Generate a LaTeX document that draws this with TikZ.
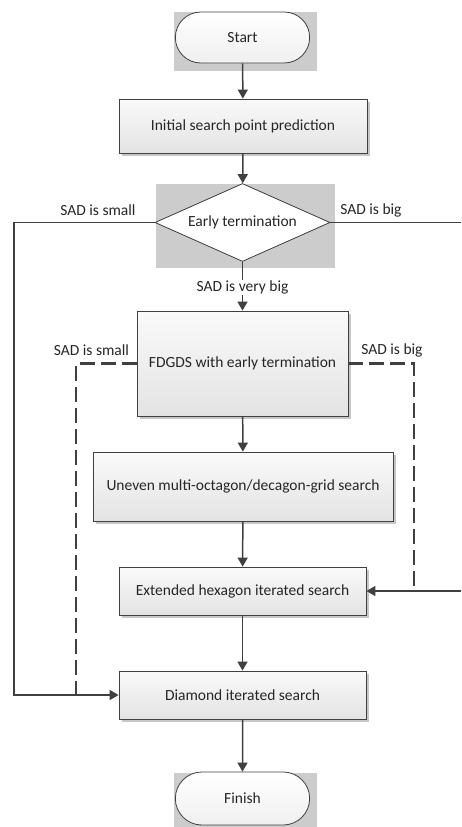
\documentclass[tikz,border=0pt]{standalone}
\usepackage{fontspec}
\setmainfont{Carlito}
\usepackage{tikz}
\usetikzlibrary{arrows.meta,shapes.geometric,shapes.misc,shadows}
\definecolor{linegray}{HTML}{404040}
\definecolor{bggray}{HTML}{CCCCCC}
\tikzset{
	x=1pt, y=-1pt,
	every node/.style={font=\fontsize{15.5}{18}\selectfont, text=black!85},
	procbox/.style={draw=linegray, line width=0.8pt, rectangle, top color=black!2, bottom color=black!11,
		general shadow={fill=black!22, shadow xshift=3pt, shadow yshift=-3pt}},
	termbox/.style={draw=linegray, line width=0.8pt, rounded rectangle, top color=white, bottom color=black!6},
	decbox/.style={draw=linegray, line width=0.8pt, diamond, inner sep=0pt, aspect=2.2, fill=white},
	lbl/.style={inner sep=1pt},
	arr/.style={draw=linegray, line width=1.5pt, -{Triangle[length=9pt,width=10pt]}},
	plain/.style={draw=linegray, line width=1.5pt},
	dashline/.style={draw=linegray, line width=2.6pt, dash pattern=on 15pt off 6pt},
}

\begin{document}
\begin{tikzpicture}
			%%%%% START %%%%%
			\useasboundingbox[fill=white] (0, 0) rectangle (461, 827);
			
			\fill[bggray] (174, 12) rectangle (317, 71);
			\fill[bggray] (156, 184) rectangle (335, 268);
			\fill[bggray] (174, 773) rectangle (317, 827);
			
			\node[termbox, minimum width=141pt, minimum height=51pt] (start) at (242.5, 37.5) {Start};
			\node[procbox, minimum width=248pt, minimum height=54pt] (init) at (243, 126) {Initial search point prediction};
			\node[decbox, minimum width=175pt, minimum height=78pt] (early) at (242.5, 222.5) {Early termination};
			\node[procbox, minimum width=211pt, minimum height=105pt] (fdgds) at (242.5, 363.5) {FDGDS with early termination};
			\node[procbox, minimum width=300pt, minimum height=69pt] (uneven) at (243, 486.5) {Uneven multi-octagon/decagon-grid search};
			\node[procbox, minimum width=247pt, minimum height=48pt] (hexa) at (242.5, 591) {Extended hexagon iterated search};
			\node[procbox, minimum width=247pt, minimum height=48pt] (diam) at (242.5, 695) {Diamond iterated search};
			\node[termbox, minimum width=141pt, minimum height=53pt] (finish) at (242.5, 798.5) {Finish};
			
			\node[lbl] (small1) at (98, 210) {SAD is small};
			\node[lbl] (big1) at (371, 210) {SAD is big};
			\node[lbl] (small2) at (91.5, 350) {SAD is small};
			\node[lbl] (big2) at (392, 350) {SAD is big};
			
			\coordinate (lcorner) at (14, 222.5);
			\coordinate (redge) at (461, 222.5);
			\coordinate (redge2) at (461, 591);
			\coordinate (dlcorner) at (76, 363.5);
			\coordinate (drcorner) at (414, 363.5);
			
			\draw[arr] (start) -- (init);
			\draw[arr] (init) -- (early);
			\draw[arr] (early.south) -- (fdgds.north) node[lbl, pos=0.52, fill=white] (vbig) {SAD is very big};
			\draw[arr] (fdgds) -- (uneven);
			\draw[arr] (uneven) -- (hexa);
			\draw[arr] (hexa) -- (diam);
			\draw[arr] (diam) -- (finish);
			
			\draw[arr] (early.west) -- (lcorner) |- (diam.west);
			\draw[plain] (early.east) -- (redge);
			\draw[arr] (redge2) -- (hexa.east);
			
			\draw[dashline] (fdgds.west) -- (dlcorner) |- ([xshift=-22pt]diam.west);
			\draw[dashline] (fdgds.east) -- (drcorner) |- ([xshift=22pt]hexa.east);
			
			%%%%% END %%%%%
		\end{tikzpicture}
\end{document}
